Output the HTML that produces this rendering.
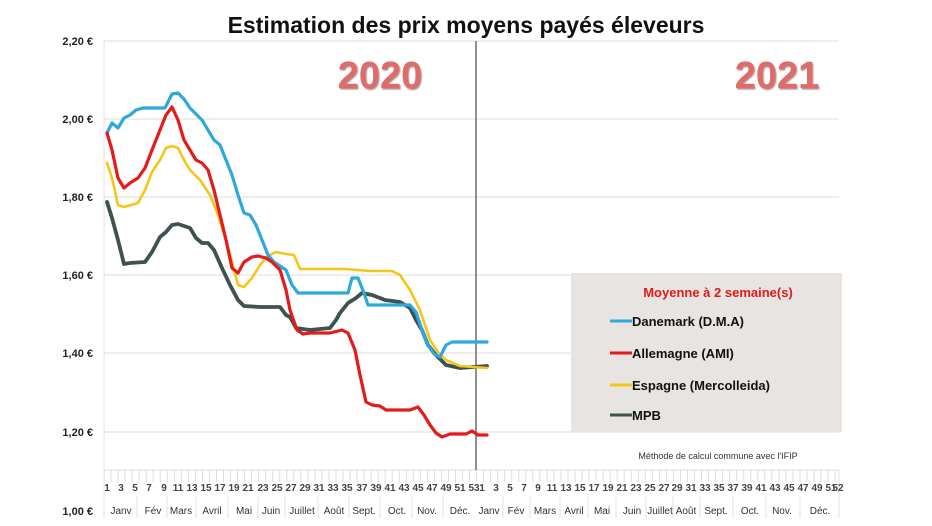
<!DOCTYPE html>
<html><head><meta charset="utf-8"><style>
html,body{margin:0;padding:0;background:#fff;}
svg{display:block;font-family:"Liberation Sans",sans-serif;}
</style></head><body>
<svg width="932" height="526" viewBox="0 0 932 526" xmlns="http://www.w3.org/2000/svg">
<defs>
<pattern id="wk" x="103.5" y="0" width="7.03" height="526" patternUnits="userSpaceOnUse">
<line x1="0.5" y1="470" x2="0.5" y2="482" stroke="#ddd" stroke-width="1"/>
</pattern>
<filter id="sh"><feDropShadow dx="1" dy="1.5" stdDeviation="0.8" flood-color="#7a3030" flood-opacity="0.6"/></filter>
</defs>
<text x="466" y="33" text-anchor="middle" font-size="23" font-weight="bold" fill="#111">Estimation des prix moyens payés éleveurs</text>
<g stroke="#e4e4e4" stroke-width="1.2">
<line x1="104" y1="41" x2="839" y2="41"/>
<line x1="104" y1="119" x2="839" y2="119"/>
<line x1="104" y1="197" x2="839" y2="197"/>
<line x1="104" y1="275" x2="839" y2="275"/>
<line x1="104" y1="353" x2="839" y2="353"/>
<line x1="104" y1="432" x2="839" y2="432"/>
<line x1="104" y1="470" x2="839" y2="470"/>
<line x1="104" y1="41" x2="104" y2="518"/>
</g>
<rect x="104" y="470" width="735" height="14" fill="url(#wk)"/>
<g stroke="#e2e2e2" stroke-width="1">
<line x1="137" y1="496" x2="137" y2="518"/><line x1="167" y1="496" x2="167" y2="518"/><line x1="196" y1="496" x2="196" y2="518"/><line x1="228" y1="496" x2="228" y2="518"/><line x1="258" y1="496" x2="258" y2="518"/><line x1="285" y1="496" x2="285" y2="518"/><line x1="318" y1="496" x2="318" y2="518"/><line x1="349" y1="496" x2="349" y2="518"/><line x1="380" y1="496" x2="380" y2="518"/><line x1="412" y1="496" x2="412" y2="518"/><line x1="443" y1="496" x2="443" y2="518"/>
<line x1="503" y1="496" x2="503" y2="518"/><line x1="530" y1="496" x2="530" y2="518"/><line x1="560" y1="496" x2="560" y2="518"/><line x1="588" y1="496" x2="588" y2="518"/><line x1="616" y1="496" x2="616" y2="518"/><line x1="646" y1="496" x2="646" y2="518"/><line x1="673" y1="496" x2="673" y2="518"/><line x1="700" y1="496" x2="700" y2="518"/><line x1="733" y1="496" x2="733" y2="518"/><line x1="766" y1="496" x2="766" y2="518"/><line x1="800" y1="496" x2="800" y2="518"/><line x1="839" y1="470" x2="839" y2="518"/>
</g>
<g font-size="11" font-weight="bold" fill="#222" text-anchor="end">
<text x="93" y="45">2,20 €</text>
<text x="93" y="123">2,00 €</text>
<text x="93" y="201">1,80 €</text>
<text x="93" y="279">1,60 €</text>
<text x="93" y="357">1,40 €</text>
<text x="93" y="436">1,20 €</text>
<text x="93" y="515">1,00 €</text>
</g>
<text x="380" y="88" text-anchor="middle" font-size="38" font-weight="bold" fill="#de6c6c" filter="url(#sh)">2020</text>
<text x="777" y="88" text-anchor="middle" font-size="38" font-weight="bold" fill="#de6c6c" filter="url(#sh)">2021</text>
<rect x="571" y="273" width="271" height="159" fill="#e7e4e1"/>
<text x="718" y="297" text-anchor="middle" font-size="13" font-weight="bold" fill="#e01a1a">Moyenne à  2 semaine(s)</text>
<g font-size="13" font-weight="bold" fill="#111">
<line x1="610" y1="321" x2="632" y2="321" stroke="#2fa8dc" stroke-width="3"/><text x="632" y="326">Danemark (D.M.A)</text>
<line x1="610" y1="353" x2="632" y2="353" stroke="#e31b1b" stroke-width="3"/><text x="632" y="358">Allemagne (AMI)</text>
<line x1="610" y1="385" x2="632" y2="385" stroke="#f5c518" stroke-width="3"/><text x="632" y="390">Espagne (Mercolleida)</text>
<line x1="610" y1="415" x2="632" y2="415" stroke="#3e5252" stroke-width="3"/><text x="632" y="420">MPB</text>
</g>
<text x="718" y="459" text-anchor="middle" font-size="9" fill="#333">Méthode de calcul commune avec l'IFIP</text>
<line x1="476" y1="41" x2="476" y2="470" stroke="#555" stroke-width="1.3"/>
<g fill="none" stroke-width="3.2" stroke-linejoin="round" stroke-linecap="round">
<polyline stroke="#3e5252" stroke-width="3.8" points="107,202 112,218 118,240 124,264 130,263 145,262 152,252 160,237 166,232 172,225 178,224 184,226 190,228 196,238 202,243 208,243 214,250 222,268 230,285 238,300 244,306 260,307 280,307 286,315 290,317 296,328 310,330 330,328 336,320 340,313 348,303 356,298 362,293 372,295 385,300 400,302 410,308 416,320 422,330 428,345 436,355 446,365 460,368 487,366"/>
<polyline stroke="#f5c518" stroke-width="2.6" points="107,163 112,178 118,205 124,207 138,203 145,190 152,172 160,160 166,148 172,146 178,148 184,160 190,170 200,180 210,195 218,215 226,240 232,262 238,285 244,287 252,278 260,265 268,256 276,252 286,254 294,255 300,269 345,269 370,271 392,271 400,275 410,290 420,310 430,340 438,352 446,360 460,366 487,368"/>
<polyline stroke="#2fa8dc" points="107,133 112,123 118,128 124,118 130,115 136,110 143,108 165,108 172,94 178,93 184,99 190,108 196,114 202,120 208,130 214,140 220,145 226,160 232,175 238,195 244,213 250,215 256,225 262,240 268,255 274,262 280,266 286,270 292,285 298,293 348,293 352,278 358,278 364,293 368,305 410,305 416,312 422,330 428,345 434,354 440,357 446,345 452,342 487,342"/>
<polyline stroke="#e31b1b" points="107,133 112,150 118,178 124,188 130,183 138,178 145,168 152,150 160,130 166,115 172,107 178,120 184,140 190,150 196,160 202,163 208,170 214,190 220,215 226,240 232,268 238,273 244,262 252,257 258,256 266,258 272,262 280,270 286,290 290,310 297,330 303,334 310,333 330,333 342,330 348,333 355,350 360,375 366,402 372,405 380,406 386,410 410,410 418,407 424,415 430,425 436,433 442,437 450,434 466,434 472,431 478,435 487,435"/>
</g>
<g font-size="10" font-weight="bold" fill="#444" text-anchor="middle">
<text x="107" y="491">1</text><text x="121" y="491">3</text><text x="135" y="491">5</text><text x="149" y="491">7</text><text x="164" y="491">9</text><text x="178" y="491">11</text><text x="192" y="491">13</text><text x="206" y="491">15</text><text x="220" y="491">17</text><text x="234" y="491">19</text><text x="248" y="491">21</text><text x="263" y="491">23</text><text x="277" y="491">25</text><text x="291" y="491">27</text><text x="305" y="491">29</text><text x="319" y="491">31</text><text x="333" y="491">33</text><text x="347" y="491">35</text><text x="362" y="491">37</text><text x="376" y="491">39</text><text x="390" y="491">41</text><text x="404" y="491">43</text><text x="418" y="491">45</text><text x="432" y="491">47</text><text x="446" y="491">49</text><text x="460" y="491">51</text><text x="474" y="491">53</text>
<text x="482" y="491">1</text><text x="496" y="491">3</text><text x="510" y="491">5</text><text x="524" y="491">7</text><text x="538" y="491">9</text><text x="552" y="491">11</text><text x="566" y="491">13</text><text x="580" y="491">15</text><text x="594" y="491">17</text><text x="608" y="491">19</text><text x="622" y="491">21</text><text x="636" y="491">23</text><text x="650" y="491">25</text><text x="664" y="491">27</text><text x="677" y="491">29</text><text x="691" y="491">31</text><text x="705" y="491">33</text><text x="719" y="491">35</text><text x="733" y="491">37</text><text x="747" y="491">39</text><text x="761" y="491">41</text><text x="775" y="491">43</text><text x="789" y="491">45</text><text x="803" y="491">47</text><text x="817" y="491">49</text><text x="831" y="491">51</text><text x="838" y="491">52</text>
</g>
<g font-size="10" fill="#333" text-anchor="middle">
<text x="121" y="514">Janv</text><text x="153" y="514">Fév</text><text x="181" y="514">Mars</text><text x="212" y="514">Avril</text><text x="244" y="514">Mai</text><text x="271" y="514">Juin</text><text x="302" y="514">Juillet</text><text x="334" y="514">Août</text><text x="364" y="514">Sept.</text><text x="397" y="514">Oct.</text><text x="427" y="514">Nov.</text><text x="460" y="514">Déc.</text>
<text x="489" y="514">Janv</text><text x="516" y="514">Fév</text><text x="545" y="514">Mars</text><text x="574" y="514">Avril</text><text x="602" y="514">Mai</text><text x="632" y="514">Juin</text><text x="660" y="514">Juillet</text><text x="686" y="514">Août</text><text x="716" y="514">Sept.</text><text x="750" y="514">Oct.</text><text x="782" y="514">Nov.</text><text x="820" y="514">Déc.</text>
</g>
</svg>
</body></html>
